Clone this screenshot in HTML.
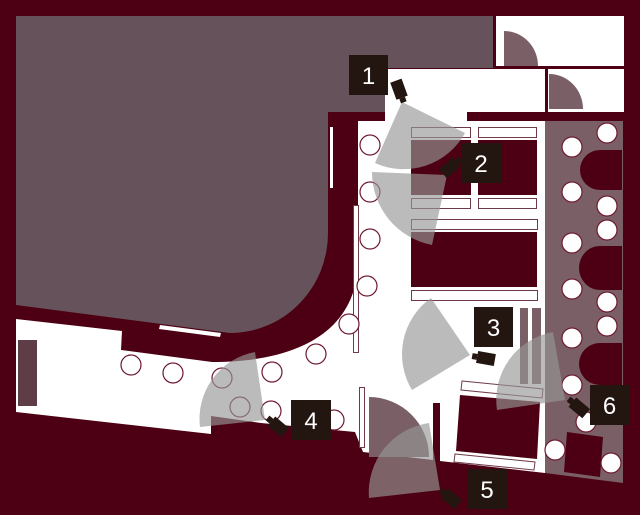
<!DOCTYPE html>
<html><head><meta charset="utf-8"><style>
html,body{margin:0;padding:0;background:#4d0013;}
svg{display:block}
text{font-family:"Liberation Sans",sans-serif;font-size:24px;fill:#fff;text-anchor:middle}
</style></head><body>
<svg width="640" height="515" viewBox="0 0 640 515" xmlns="http://www.w3.org/2000/svg">
<rect width="640" height="515" fill="#4d0013"/>
<!-- big gray region -->
<path d="M16,16 L493,16 L493,68 L385,68 L385,112 L328,112 L328,232 A98,100 0 0 1 230,333 L16,305 Z" fill="#66525a"/>
<!-- thin white bar on wall -->
<rect x="330" y="127" width="3" height="61" fill="#fff"/>
<polygon points="160,325 221,333 220,337 159,329" fill="#fff"/>
<!-- top rooms -->
<rect x="496" y="16" width="128" height="50" fill="#fff"/>
<rect x="548" y="69" width="76" height="43" fill="#fff"/>
<path d="M504,66 L504,31 A34,35 0 0 1 538,66 Z" fill="#7a5f66"/>
<path d="M549,109 L549,74 A34,35 0 0 1 583,109 Z" fill="#7a5f66"/>
<rect x="385" y="69" width="160" height="43" fill="#fff"/>
<rect x="385" y="110" width="82" height="12" fill="#fff"/>
<!-- main white floor -->
<path d="M358,121 L545,121 L545,473 L440,461 L440,403 L433,403 L433,460 L363,452 L355,432 L261,423 L211,416 L211,434 L16,412 L16,319 L122,331 L121,350 L212,362 C300,362 358,330 358,260 Z" fill="#fff"/>
<!-- gray strip right -->
<polygon points="545,121 623,121 623,483 545,473" fill="#7a5f66"/>
<!-- left dark rect -->
<rect x="18" y="340" width="19" height="66" fill="#5e3d47"/>
<!-- furniture -->
<g fill="#fff" stroke="#6e3a48" stroke-width="1">
<rect x="411.5" y="127.5" width="59" height="10"/>
<rect x="478.5" y="127.5" width="58" height="10"/>
<rect x="411.5" y="198.5" width="59" height="10"/>
<rect x="478.5" y="198.5" width="58" height="10"/>
<rect x="411.5" y="219.5" width="126" height="10"/>
<rect x="411.5" y="290.5" width="126" height="10"/>
<polygon points="462,381 543,389 542,398 461,390"/>
<polygon points="455,454 535,462 534,470 454,462"/>
<rect x="353.5" y="205.5" width="5" height="147"/>
<rect x="359.5" y="387.5" width="5" height="60"/>
</g>
<g fill="#4d0013">
<rect x="411" y="140" width="60" height="55"/>
<rect x="478" y="140" width="59" height="55"/>
<rect x="411" y="232" width="126" height="55"/>
<polygon points="460,395 540,402 537,459 456,451"/>
<polygon points="567,432 603,437 600,477 564,472"/>
<path d="M622,150 L600,150 A20,20 0 0 0 600,190 L622,190 Z"/>
<path d="M622,246 L600,246 A21,22 0 0 0 600,290 L622,290 Z"/>
<path d="M622,343 L600,343 A21,21 0 0 0 600,385 L622,385 Z"/>
</g>
<rect x="520" y="308" width="8" height="76" fill="#7a5f66"/>
<rect x="532" y="308" width="9" height="76" fill="#7a5f66"/>
<!-- circles on floor -->
<g fill="#fff" stroke="#6e1a30" stroke-width="1.2">
<circle cx="370" cy="145" r="10"/><circle cx="370" cy="192" r="10"/><circle cx="370" cy="239" r="10"/>
<circle cx="367" cy="286" r="10"/><circle cx="349" cy="324" r="10"/><circle cx="316" cy="354" r="10"/>
<circle cx="272" cy="372" r="10"/><circle cx="222" cy="378" r="10"/><circle cx="173" cy="373" r="10"/>
<circle cx="131" cy="365" r="10"/><circle cx="240" cy="407" r="10"/><circle cx="271" cy="411" r="10"/>
<circle cx="334" cy="420" r="10"/>
</g>
<!-- strip circles -->
<g fill="#fff" stroke="#6e1a30" stroke-width="1.2">
<circle cx="572" cy="147" r="10"/><circle cx="607" cy="133" r="10"/><circle cx="572" cy="192" r="10"/>
<circle cx="607" cy="206" r="10"/><circle cx="607" cy="230" r="10"/><circle cx="572" cy="243" r="10"/>
<circle cx="572" cy="289" r="10"/><circle cx="607" cy="302" r="10"/><circle cx="607" cy="326" r="10"/>
<circle cx="572" cy="338" r="10"/><circle cx="572" cy="385" r="10"/><circle cx="586" cy="422" r="10"/>
<circle cx="555" cy="450" r="10"/><circle cx="611" cy="463" r="10"/>
</g>
<!-- door -->
<path d="M369,457 L369,397 A60,60 0 0 1 429,457 Z" fill="#7a5f66"/>
<!-- cones -->
<g fill="rgba(150,150,150,0.65)">
<path d="M402,102 L465,133 A70,70 0 0 1 375,163 Z"/>
<path d="M447,175 L432,245 A74,74 0 0 1 372,172 Z"/>
<path d="M470,355 L431,298 A69,69 0 0 0 412,390 Z"/>
<path d="M265,420 L255,352 A68,68 0 0 0 200,427 Z"/>
<path d="M440,490 L429,423 A70,70 0 0 0 369,498 Z"/>
<path d="M565,400 L553,332 A69,69 0 0 0 497,410 Z"/>
</g>
<!-- cameras -->
<g fill="#231510">
<g transform="translate(400,92) rotate(-20)"><rect x="-6" y="-12" width="12" height="18"/><rect x="-3" y="6" width="6" height="5"/></g>
<g transform="translate(452,166) rotate(-130)"><rect x="-6" y="-12" width="12" height="18"/><rect x="-3" y="6" width="6" height="5"/></g>
<g transform="translate(483,358) rotate(100)"><rect x="-6" y="-12" width="12" height="18"/><rect x="-3" y="6" width="6" height="5"/></g>
<g transform="translate(276,425) rotate(130)"><rect x="-6" y="-12" width="12" height="18"/><rect x="-3" y="6" width="6" height="5"/></g>
<g transform="translate(449,497) rotate(130)"><rect x="-6" y="-12" width="12" height="18"/><rect x="-3" y="6" width="6" height="5"/></g>
<g transform="translate(577,406) rotate(130)"><rect x="-6" y="-12" width="12" height="18"/><rect x="-3" y="6" width="6" height="5"/></g>
</g>
<!-- labels -->
<g fill="#231510">
<rect x="349" y="55" width="39" height="40"/>
<rect x="461" y="143" width="40" height="40"/>
<rect x="474" y="307" width="39" height="40"/>
<rect x="291" y="400" width="40" height="40"/>
<rect x="467" y="469" width="40" height="40"/>
<rect x="590" y="385" width="39" height="40"/>
</g>
<text x="368.5" y="84">1</text>
<text x="481" y="172">2</text>
<text x="493.5" y="336">3</text>
<text x="311" y="429">4</text>
<text x="487" y="498">5</text>
<text x="609.5" y="414">6</text>
</svg>
</body></html>
